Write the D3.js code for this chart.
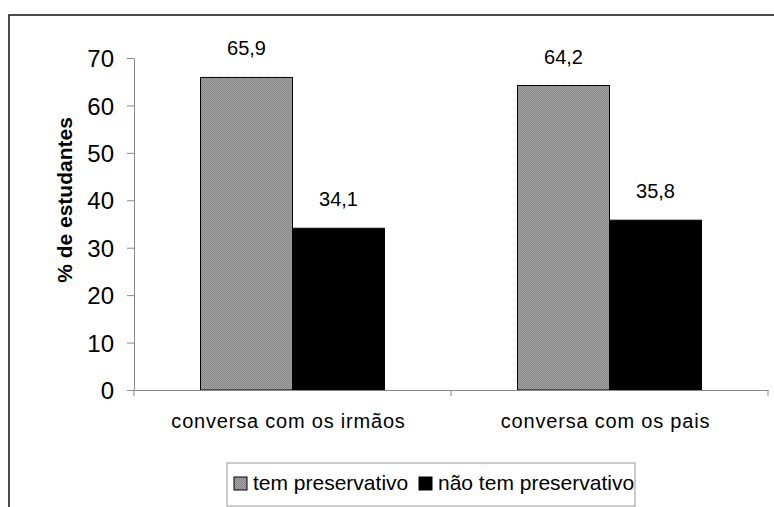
<!DOCTYPE html>
<html>
<head>
  <meta charset="utf-8">
  <script src="https://d3js.org/d3.v7.min.js"></script>
  <style>
    body { margin: 0; background: #fff; }
    text { font-family: Arial, "Liberation Sans", sans-serif; fill: #000; }
  </style>
</head>
<body>
  <div id="chart"></div>
  <script>
    // chart data
    var categories = ["conversa com os irmãos", "conversa com os pais"];
    var seriesNames = ["tem preservativo", "não tem preservativo"];
    var temPreservativo = [65.9, 64.2];
    var naoTemPreservativo = [34.1, 35.8];
    var yTicks = [0, 10, 20, 30, 40, 50, 60, 70];

    var data = categories.map(function(c, i) {
      return { cat: c, values: [temPreservativo[i], naoTemPreservativo[i]] };
    });

    var width = 774, height = 507;
    var margin = {top: 58, left: 134, right: 6, bottom: 117};

    var svg = d3.select("#chart").append("svg")
      .attr("width", width)
      .attr("height", height);

    // texture for the grey bars
    var defs = svg.append("defs");
    var pat = defs.append("pattern")
      .attr("id", "stipple")
      .attr("width", 2).attr("height", 2)
      .attr("patternUnits", "userSpaceOnUse");
    pat.append("rect").attr("width", 2).attr("height", 2).attr("fill", "#a0a0a0");
    pat.append("rect").attr("width", 1).attr("height", 1).attr("fill", "#888");
    pat.append("rect").attr("x", 1).attr("y", 1).attr("width", 1).attr("height", 1).attr("fill", "#8c8c8c");

    // outer frame (runs past the right and bottom edge)
    svg.append("rect")
      .attr("x", 9).attr("y", 15)
      .attr("width", 800).attr("height", 600)
      .attr("fill", "none")
      .attr("stroke", "#111")
      .attr("stroke-width", 1.5);

    var x0 = d3.scaleBand()
      .domain(categories)
      .range([margin.left, width - margin.right])
      .padding(0);

    var x1 = d3.scaleBand()
      .domain(seriesNames)
      .range([0, x0.bandwidth()])
      .paddingInner(0)
      .paddingOuter(0.723);

    var y = d3.scaleLinear()
      .domain([0, 70])
      .range([390, margin.top]);

    var fills = ["url(#stipple)", "#000"];

    // bars
    var groups = svg.selectAll("g.group")
      .data(data)
      .enter().append("g")
      .attr("class", "group")
      .attr("transform", function(d) { return "translate(" + x0(d.cat) + ",0)"; });

    groups.selectAll("rect")
      .data(function(d) { return d.values.map(function(v, i) { return {name: seriesNames[i], value: v, i: i}; }); })
      .enter().append("rect")
      .attr("x", function(d) { return x1(d.name); })
      .attr("y", function(d) { return y(d.value); })
      .attr("width", x1.bandwidth())
      .attr("height", function(d) { return y(0) - y(d.value); })
      .attr("fill", function(d) { return fills[d.i]; })
      .attr("stroke", "#000")
      .attr("stroke-width", 1);

    groups.selectAll("text.val")
      .data(function(d) { return d.values.map(function(v, i) { return {name: seriesNames[i], value: v}; }); })
      .enter().append("text")
      .attr("class", "val")
      .attr("x", function(d) { return x1(d.name) + x1.bandwidth() / 2; })
      .attr("y", function(d) { return y(d.value) - 22; })
      .attr("text-anchor", "middle")
      .style("font-size", "20px")
      .text(function(d) { return d3.format(".1f")(d.value).replace(".", ","); });

    // y axis
    var yAxis = svg.append("g")
      .attr("transform", "translate(" + margin.left + ",0)")
      .call(d3.axisLeft(y).tickValues(yTicks).tickSize(7).tickSizeOuter(0).tickPadding(13));
    yAxis.select(".domain").attr("stroke", "#888");
    yAxis.selectAll(".tick line").attr("stroke", "#888");
    yAxis.selectAll(".tick text")
      .style("font-size", "24px")
      .attr("dy", "0.36em");

    // x axis
    var xAxis = svg.append("g")
      .attr("transform", "translate(0," + y(0) + ")")
      .call(d3.axisBottom(x0).tickSize(0).tickSizeOuter(0).tickPadding(24));
    xAxis.select(".domain").attr("stroke", "#888");
    xAxis.selectAll(".tick text")
      .attr("dx", "-4")
      .style("font-size", "20px")
      .style("letter-spacing", "0.8px");

    // category boundary ticks
    var edges = categories.map(function(c) { return x0(c); }).concat([x0.range()[1]]);
    xAxis.selectAll("line.edge")
      .data(edges)
      .enter().append("line")
      .attr("class", "edge")
      .attr("x1", function(d) { return d; })
      .attr("x2", function(d) { return d; })
      .attr("y1", 0).attr("y2", 6)
      .attr("stroke", "#888");

    // y axis title
    svg.append("text")
      .attr("transform", "translate(72,200) rotate(-90)")
      .attr("text-anchor", "middle")
      .style("font-size", "21px")
      .style("font-weight", "bold")
      .text("% de estudantes");

    // legend
    var legend = svg.append("g");
    legend.append("rect")
      .attr("x", 227).attr("y", 463)
      .attr("width", 408).attr("height", 43)
      .attr("fill", "#fff")
      .attr("stroke", "#999");

    var legendX = [234, 419];
    var items = legend.selectAll("g.item")
      .data(seriesNames)
      .enter().append("g")
      .attr("class", "item")
      .attr("transform", function(d, i) { return "translate(" + legendX[i] + ",0)"; });

    items.append("rect")
      .attr("x", 0).attr("y", 477)
      .attr("width", 13).attr("height", 13)
      .attr("fill", function(d, i) { return fills[i]; })
      .attr("stroke", "#000");

    items.append("text")
      .attr("x", 19).attr("y", 490)
      .style("font-size", "21px")
      .text(function(d) { return d; });
  </script>
</body>
</html>
